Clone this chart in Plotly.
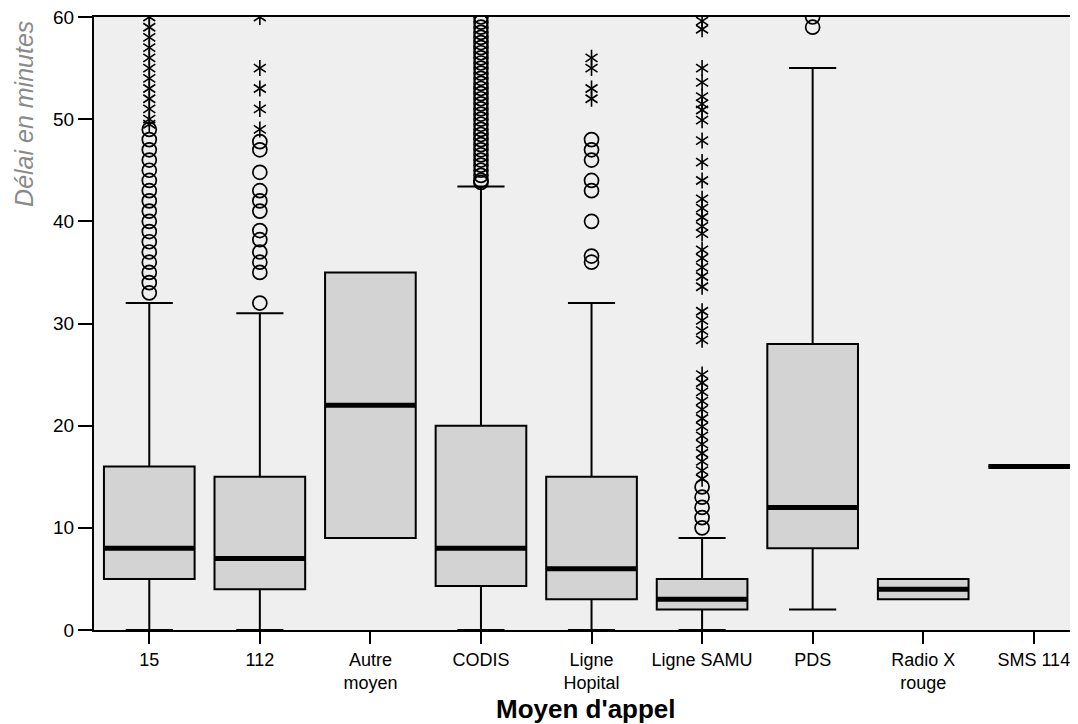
import plotly.graph_objects as go

categories = ["15", "112", "Autre moyen", "CODIS", "Ligne Hopital", "Ligne SAMU", "PDS", "Radio X rouge", "SMS 114"]
tick_labels = ["15", "112", "Autre<br>moyen", "CODIS", "Ligne<br>Hopital", "Ligne SAMU", "PDS", "Radio X<br>rouge", "SMS 114"]

q1 = [5, 4, 9, 4.3, 3, 2, 8, 3, 16]
median = [8, 7, 22, 8, 6, 3, 12, 4, 16]
q3 = [16, 15, 35, 20, 15, 5, 28, 5, 16]
lower_whisker = [0, 0, 9, 0, 0, 0, 2, 3, 16]
upper_whisker = [32, 31, 35, 43.4, 32, 9, 55, 5, 16]

# outliers (circles: > 1.5 IQR, stars: > 3 IQR)
circles = {
    "15": [33, 34, 35, 36, 37, 38, 39, 40, 41, 42, 43, 44, 45, 46, 47, 48, 49],
    "112": [32, 35, 36, 37, 38.2, 39.1, 41, 42, 43, 44.8, 47, 47.8],
    "CODIS": [43.8, 44, 44.5, 45, 45.5, 46, 46.5, 47, 47.5, 48, 48.5, 49, 49.5, 50, 50.5,
              51, 51.5, 52, 52.5, 53, 53.5, 54, 54.5, 55, 55.5, 56, 56.5, 57, 57.5, 58,
              58.5, 59, 59.5, 60],
    "Ligne Hopital": [36, 36.6, 40, 43, 44, 46, 47, 48],
    "Ligne SAMU": [10, 11, 12, 13, 14],
    "PDS": [59, 60],
}
stars = {
    "15": [49.5, 50, 51, 52, 53, 54, 55, 56, 57, 58, 59, 60],
    "112": [49, 51, 53, 55, 60],
    "Ligne Hopital": [52, 53, 55, 56],
    "Ligne SAMU": [14.8, 15.6, 16.5, 17.3, 18.2, 19, 19.9, 20.7, 21.6, 22.4, 23.3, 24.2, 25,
                   28.4, 29.3, 30.3, 31.2, 33.6, 34.6, 35.5, 36.4, 37.2, 38.8, 39.5, 40.4,
                   41.3, 42.2, 44, 45.8, 47.9, 49.9, 50.9, 51.5, 52.2, 53.6, 55, 58.8, 59.6],
}

fig = go.Figure()

fig.add_trace(go.Box(
    x=categories, q1=q1, median=median, q3=q3,
    lowerfence=lower_whisker, upperfence=upper_whisker,
    boxpoints=False, fillcolor="#d3d3d3",
    line=dict(color="black", width=2), width=0.82, whiskerwidth=0.52,
    showlegend=False, hoverinfo="skip",
))
# thick median line
fig.add_trace(go.Box(
    x=categories, q1=median, median=median, q3=median,
    lowerfence=median, upperfence=median,
    boxpoints=False, fillcolor="rgba(0,0,0,0)",
    line=dict(color="black", width=5), width=0.82, whiskerwidth=0,
    showlegend=False, hoverinfo="skip",
))

cx = [c for c, vals in circles.items() for _ in vals]
cy = [v for vals in circles.values() for v in vals]
fig.add_trace(go.Scatter(
    x=cx, y=cy, mode="markers",
    marker=dict(symbol="circle-open", size=14, color="black", line=dict(width=1.7)),
    showlegend=False, hoverinfo="skip",
))
sx = [c for c, vals in stars.items() for _ in vals]
sy = [v for vals in stars.values() for v in vals]
for sym in ["y-up-open", "y-down-open"]:
    fig.add_trace(go.Scatter(
        x=sx, y=sy, mode="markers",
        marker=dict(symbol=sym, size=10, color="black", line=dict(width=1.6, color="black")),
        showlegend=False, hoverinfo="skip",
    ))

font_family = "Arial, Liberation Sans, sans-serif"
# the page body adds an 8px offset, so the figure is sized to fit the window
fig.update_layout(
    width=1070, height=716,
    margin=dict(l=86, r=0, t=9, b=94),
    paper_bgcolor="white", plot_bgcolor="#efefef",
    font=dict(family=font_family, color="black", size=18),
    xaxis=dict(
        type="category", categoryorder="array", categoryarray=categories,
        tickvals=categories, ticktext=tick_labels,
        range=[-0.5, 8.4], showgrid=False, zeroline=False,
        showline=True, linecolor="black", linewidth=2, mirror=True,
        ticks="outside", ticklen=12, tickwidth=2, tickcolor="black",
        tickfont=dict(size=18), automargin=False, ticklabeloverflow="allow",
    ),
    yaxis=dict(
        range=[0, 60], tickvals=[0, 10, 20, 30, 40, 50, 60],
        showgrid=False, zeroline=False,
        showline=True, linecolor="black", linewidth=2,
        ticks="outside", ticklen=14, tickwidth=2, tickcolor="black",
        tickfont=dict(size=19), automargin=False, ticklabeloverflow="allow",
    ),
    annotations=[
        dict(
            text="<i>Délai en minutes</i>", textangle=-90,
            xref="paper", yref="paper", x=-0.0711, y=0.842,
            showarrow=False, font=dict(size=25, color="#8a8a8a"),
            xanchor="center", yanchor="middle",
        ),
        dict(
            text="<b>Moyen d'appel</b>",
            xref="paper", yref="paper", x=0.5, y=-0.129,
            showarrow=False, font=dict(size=26, color="black"),
            xanchor="center", yanchor="middle",
        ),
    ],
)

fig.write_html("out.html")
